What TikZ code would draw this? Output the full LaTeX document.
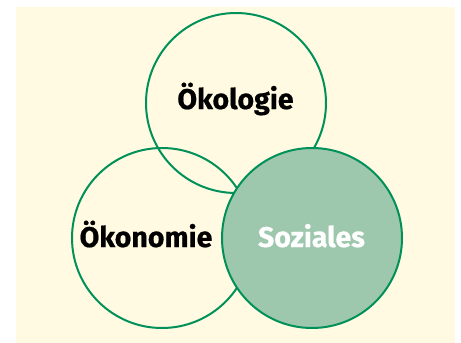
\documentclass[tikz,border=0pt]{standalone}
\usepackage{fontspec}
\setmainfont{Fira Sans}
\newfontfamily\lblfont{Fira Sans}[BoldFeatures={FakeBold=0.6}]
\definecolor{bgyellow}{HTML}{FFFAE1}
\definecolor{ringgreen}{HTML}{00915A}
\definecolor{softgreen}{HTML}{9EC8AD}
\begin{document}
\begin{tikzpicture}[x=1pt,y=-1pt,
  ring/.style={draw=ringgreen,line width=2pt},
  lbl/.style={font=\lblfont\fontsize{28.5}{30}\selectfont\bfseries,anchor=base,inner sep=0pt}]
\useasboundingbox (0,0) rectangle (461,343);
\fill[bgyellow] (16,7) rectangle (455,343);
\node[ring,circle,minimum size=180pt,inner sep=0pt] (oekologie) at (236,103) {};
\node[ring,circle,minimum size=180pt,inner sep=0pt] (oekonomie) at (162,238) {};
\node[ring,circle,minimum size=180pt,inner sep=0pt,fill=softgreen] (soziales) at (312,238) {};
\node[lbl] (t1) at (235.5,109) {Ökologie};
\node[lbl] (t2) at (146,247) {Ökonomie};
\node[lbl,text=white] (t3) at (311.5,247) {Soziales};
\end{tikzpicture}
\end{document}
